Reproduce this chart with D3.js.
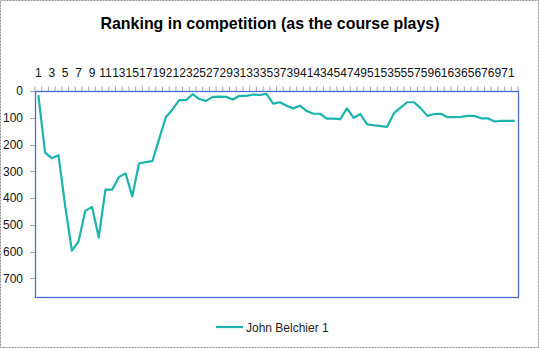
<!DOCTYPE html>
<html>
<head>
<meta charset="utf-8">
<script src="https://cdn.jsdelivr.net/npm/d3@7/dist/d3.min.js"></script>
<style>
  html, body { margin: 0; padding: 0; background: #fff; }
  svg { display: block; font-family: "Liberation Sans", Arial, sans-serif; }
</style>
</head>
<body>
<svg id="chart" width="539" height="348"></svg>
<script>
const title = "Ranking in competition (as the course plays)";
const seriesName = "John Belchier 1";
const categories = d3.range(1, 73);
const ranking = [
  15, 230, 251, 240, 430, 597, 562, 448, 433, 547,
  369, 369, 322, 308, 394, 271, 266, 262, 180, 98,
  69, 34, 34, 12, 30, 37, 22, 21, 22, 32,
  18, 18, 13, 15, 11, 47, 42, 55, 65, 55,
  75, 85, 85, 103, 103, 105, 65, 100, 86, 125,
  128, 131, 134, 83, 62, 42, 42, 65, 93, 86,
  85, 98, 98, 97, 93, 93, 102, 102, 114, 112,
  112, 112
];
const xTickLabels = categories.filter(c => c % 2 === 1);
const yTicks = [0, 100, 200, 300, 400, 500, 600, 700];
const yMax = 770;

const svg = d3.select("#chart");
const W = 539, H = 348;
const plot = { left: 35, right: 518, top: 91, bottom: 297 };

// outer chart border
svg.append("rect")
  .attr("x", 0.5).attr("y", 0.5).attr("width", W - 1).attr("height", H - 1)
  .attr("fill", "#fff").attr("stroke", "#8c8c8c").attr("stroke-dasharray", "2,1");

// title
svg.append("text")
  .attr("x", 270).attr("y", 29)
  .attr("text-anchor", "middle")
  .attr("font-size", 17).attr("font-weight", "bold").attr("fill", "#000")
  .attr("textLength", 339).attr("lengthAdjust", "spacingAndGlyphs")
  .text(title);

const x = d3.scaleBand().domain(categories).range([plot.left, plot.right]).padding(0);
const y = d3.scaleLinear().domain([0, yMax]).range([plot.top, plot.bottom]);

// x tick marks at category boundaries (top)
const bounds = categories.map(c => x(c)).concat([x(categories[categories.length - 1]) + x.bandwidth()]);
svg.append("g").selectAll("line").data(bounds).join("line")
  .attr("x1", d => d).attr("x2", d => d)
  .attr("y1", plot.top - 4.5).attr("y2", plot.top)
  .attr("stroke", "#a6a6a6").attr("stroke-width", 1);

// x labels
svg.append("g").selectAll("text").data(xTickLabels).join("text")
  .attr("x", d => x(d) + x.bandwidth() / 2)
  .attr("y", 77)
  .attr("text-anchor", "middle")
  .attr("font-size", 12).attr("fill", "#111")
  .text(d => d);

// y ticks & labels
const yg = svg.append("g");
yg.selectAll("line").data(yTicks).join("line")
  .attr("x1", plot.left - 5).attr("x2", plot.left)
  .attr("y1", d => Math.round(y(d)) + 0.5).attr("y2", d => Math.round(y(d)) + 0.5)
  .attr("stroke", "#a6a6a6");
yg.selectAll("text").data(yTicks).join("text")
  .attr("x", 23).attr("y", d => y(d) + 4.3)
  .attr("text-anchor", "end")
  .attr("font-size", 12).attr("fill", "#111")
  .text(d => d);

// plot area border
svg.append("rect")
  .attr("x", plot.left + 0.5).attr("y", plot.top + 0.5)
  .attr("width", plot.right - plot.left).attr("height", plot.bottom - plot.top)
  .attr("fill", "none").attr("stroke", "#4a6bd0").attr("stroke-width", 1.3);

// line
const line = d3.line()
  .x((d, i) => x(categories[i]) + x.bandwidth() / 2)
  .y(d => y(d));
svg.append("path")
  .datum(ranking)
  .attr("d", line)
  .attr("fill", "none")
  .attr("stroke", "#1ab3ad")
  .attr("stroke-width", 2.2)
  .attr("stroke-linejoin", "round");

// legend
svg.append("line")
  .attr("x1", 216).attr("x2", 243).attr("y1", 327).attr("y2", 327)
  .attr("stroke", "#1ab3ad").attr("stroke-width", 2.2);
svg.append("text")
  .attr("x", 246).attr("y", 331.5)
  .attr("font-size", 12).attr("fill", "#222")
  .text(seriesName);
</script>
</body>
</html>
